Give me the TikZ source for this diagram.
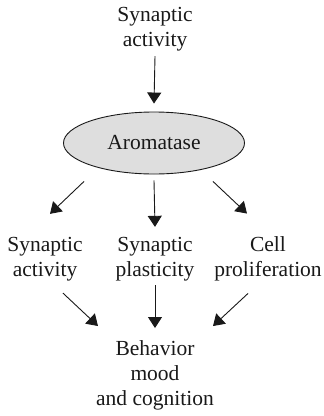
\documentclass[tikz,border=0pt]{standalone}
\usepackage{fontspec}
\setmainfont{Liberation Serif}
\usetikzlibrary{shapes.geometric,arrows.meta}
\begin{document}
\begin{tikzpicture}[x=1pt,y=-1pt,
  lbl/.style={align=center,font=\fontsize{21.5}{25}\selectfont,inner sep=0pt,text=black!90},
  hub/.style={ellipse,draw=black!90,line width=0.9pt,fill=black!13,
    minimum width=181pt,minimum height=62pt,inner sep=0pt,
    font=\fontsize{21.5}{25}\selectfont,text=black!90},
  arr/.style={-{Triangle[length=11pt,width=14pt]},line width=0.9pt,draw=black!90}]
\useasboundingbox (0,0) rectangle (324,416);

% nodes
\node[lbl] (top) at (155,29) {Synaptic\\activity};
\node[hub] (aro) at (154,143) {Aromatase};
\node[lbl] (sa) at (45,259) {Synaptic\\activity};
\node[lbl] (sp) at (155,259) {Synaptic\\plasticity};
\node[lbl] (cp) at (268,259) {Cell\\proliferation};
\node[lbl] (beh) at (155,375) {Behavior\\mood\\and cognition};

% connectors
\draw[arr] ([yshift=-5pt]top.south) -- ([yshift=8pt]aro.north);
\draw[arr] ([xshift=-70pt,yshift=-7pt]aro.south) -- ([xshift=5pt,yshift=23pt]sa.north);
\draw[arr] ([yshift=-6pt]aro.south) -- ([yshift=10pt]sp.north);
\draw[arr] ([xshift=59pt,yshift=-7pt]aro.south) -- ([xshift=-21pt,yshift=23pt]cp.north);
\draw[arr] ([xshift=18pt,yshift=-12pt]sa.south) -- ([xshift=-57pt,yshift=14pt]beh.north);
\draw[arr] ([yshift=-4pt]sp.south) -- ([yshift=12pt]beh.north);
\draw[arr] ([xshift=-20pt,yshift=-12pt]cp.south) -- ([xshift=58pt,yshift=14pt]beh.north);
\end{tikzpicture}
\end{document}
